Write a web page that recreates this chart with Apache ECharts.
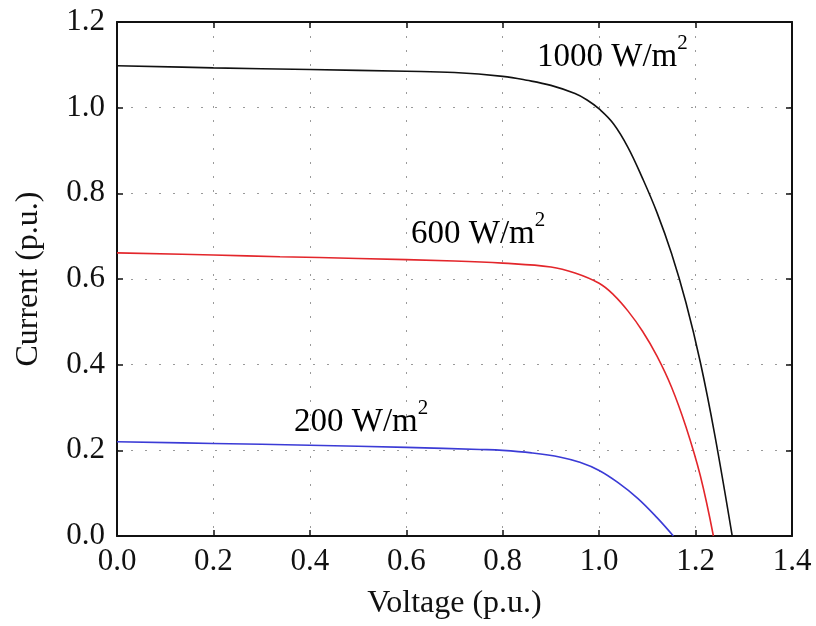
<!DOCTYPE html>
<html>
<head>
<meta charset="utf-8">
<script src="https://cdn.jsdelivr.net/npm/echarts@6/dist/echarts.min.js"></script>
<style>html,body{margin:0;padding:0;background:#fff}#c{width:816px;height:626px}</style>
</head>
<body>
<div id="c"></div>
<script>
// Data
const v1000 = [0, 0.2, 0.4, 0.6, 0.7, 0.8, 0.85, 0.9, 0.95, 0.975, 1.0, 1.03, 1.06, 1.09, 1.12, 1.15, 1.18, 1.21, 1.24, 1.276];
const i1000 = [1.098, 1.093, 1.089, 1.085, 1.082, 1.073, 1.064, 1.052, 1.033, 1.018, 0.997, 0.962, 0.907, 0.835, 0.755, 0.660, 0.545, 0.405, 0.235, 0];
const v600 = [0, 0.2, 0.338, 0.5, 0.7, 0.8, 0.9, 0.95, 1.0, 1.03, 1.06, 1.09, 1.12, 1.15, 1.18, 1.21, 1.237];
const i600 = [0.661, 0.656, 0.652, 0.648, 0.642, 0.637, 0.628, 0.614, 0.590, 0.563, 0.525, 0.478, 0.420, 0.348, 0.255, 0.140, 0];
const v200 = [0, 0.2, 0.4, 0.6, 0.753, 0.8, 0.86, 0.92, 0.96, 1.0, 1.04, 1.08, 1.12, 1.154];
const i200 = [0.22, 0.216, 0.212, 0.207, 0.202, 0.200, 0.194, 0.184, 0.172, 0.153, 0.124, 0.088, 0.043, 0];
const seriesNames = ['1000 W/m', '600 W/m', '200 W/m'];
const xTitle = 'Voltage (p.u.)';
const yTitle = 'Current (p.u.)';

const FONT = '"Liberation Serif", "DejaVu Serif", serif';
const FS = 31;
const pair = (xs, ys) => xs.map((x, k) => [x, ys[k]]);
const gridLine = { show: true, lineStyle: { color: '#9a9a9a', type: [2, 12], width: 1 } };
const axLine = { show: true, onZero: false, lineStyle: { color: '#111', width: 2 } };
const tick = { show: true, inside: true, length: 6, lineStyle: { color: '#111', width: 1.5 } };

const chart = echarts.init(document.getElementById('c'), null, { renderer: 'canvas' });
const rich = {
  a: { fontFamily: FONT, fontSize: 33, color: '#111', lineHeight: 44, verticalAlign: 'bottom' },
  s: { fontFamily: FONT, fontSize: 21, color: '#111', lineHeight: 21, verticalAlign: 'top', padding: [3, 0, 0, 0] }
};
function lbl(text, x, y) {
  return { type: 'text', left: x, top: y, style: { text: '{a|' + text + '}{s|2}', rich: rich } };
}
const lineBase = { type: 'line', showSymbol: false, smooth: 0.4 };
chart.setOption({
  animation: false,
  backgroundColor: '#fff',
  grid: { left: 117, right: 24, top: 22, bottom: 90 },
  xAxis: [
    { type: 'value', min: 0, max: 1.4, interval: 0.2, position: 'bottom',
      name: xTitle, nameLocation: 'middle', nameGap: 52,
      nameTextStyle: { fontFamily: FONT, fontSize: 32, color: '#111' },
      axisLine: axLine, axisTick: tick, splitLine: gridLine,
      axisLabel: { fontFamily: FONT, fontSize: FS, color: '#111', margin: 10, formatter: v => v.toFixed(1) } },
    { type: 'value', min: 0, max: 1.4, interval: 0.2, position: 'top',
      axisLine: axLine, axisTick: tick, splitLine: { show: false }, axisLabel: { show: false } }
  ],
  yAxis: [
    { type: 'value', min: 0, max: 1.2, interval: 0.2, position: 'left',
      name: yTitle, nameLocation: 'middle', nameGap: 72, nameRotate: 90,
      nameTextStyle: { fontFamily: FONT, fontSize: 32, color: '#111' },
      axisLine: axLine, axisTick: tick, splitLine: gridLine,
      axisLabel: { fontFamily: FONT, fontSize: FS, color: '#111', margin: 12, formatter: v => v.toFixed(1) } },
    { type: 'value', min: 0, max: 1.2, interval: 0.2, position: 'right',
      axisLine: axLine, axisTick: tick, splitLine: { show: false }, axisLabel: { show: false } }
  ],
  series: [
    Object.assign({ name: seriesNames[0], data: pair(v1000, i1000), lineStyle: { color: '#111', width: 1.6 } }, lineBase),
    Object.assign({ name: seriesNames[1], data: pair(v600, i600), lineStyle: { color: '#e3262b', width: 1.6 } }, lineBase),
    Object.assign({ name: seriesNames[2], data: pair(v200, i200), lineStyle: { color: '#3b3bd6', width: 1.6 } }, lineBase)
  ],
  graphic: [
    lbl(seriesNames[0], 537, 30),
    lbl(seriesNames[1], 411, 207),
    lbl(seriesNames[2], 294, 395)
  ]
});
</script>
</body>
</html>
